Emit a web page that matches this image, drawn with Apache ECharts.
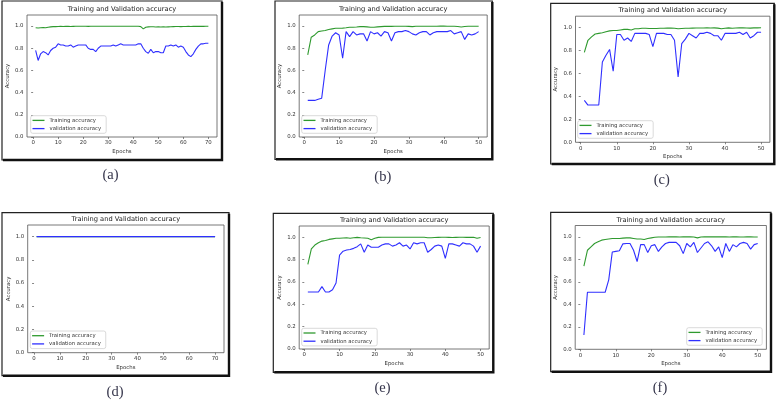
<!DOCTYPE html>
<html><head><meta charset="utf-8">
<script src="https://cdn.jsdelivr.net/npm/echarts@6/dist/echarts.min.js"></script>
<style>html,body{margin:0;padding:0;background:#fff}#c{width:777px;height:401px}</style>
</head><body><div id="c"></div>
<script>
// ---------------- data ----------------
const trainA = [0.985,0.983,0.985,0.986,0.985,0.99,0.993,0.995,0.995,0.996,
  0.997,0.996,0.997,0.997,0.996,0.997,0.998,0.998,0.998,0.998,
  0.998,0.997,0.998,0.998,0.998,0.998,0.999,0.998,0.999,0.999,
  0.999,0.999,0.999,0.999,0.999,0.999,0.999,0.999,0.999,0.999,
  0.999,0.998,0.995,0.975,0.99,0.993,0.994,0.994,0.992,0.993,
  0.992,0.993,0.992,0.993,0.994,0.995,0.996,0.996,0.995,0.996,
  0.996,0.997,0.996,0.997,0.997,0.997,0.997,0.997,0.998,0.998];
const valA = [0.78,0.69,0.75,0.77,0.76,0.74,0.78,0.80,0.81,0.84,
  0.83,0.83,0.82,0.82,0.83,0.81,0.82,0.83,0.83,0.83,
  0.83,0.80,0.79,0.79,0.77,0.80,0.82,0.82,0.82,0.82,
  0.82,0.83,0.82,0.83,0.84,0.83,0.83,0.83,0.83,0.83,
  0.83,0.84,0.84,0.80,0.77,0.755,0.79,0.76,0.77,0.77,
  0.76,0.76,0.82,0.82,0.83,0.82,0.83,0.81,0.82,0.81,
  0.77,0.74,0.725,0.75,0.79,0.82,0.84,0.84,0.845,0.845];
const trainB = [0.74,0.90,0.92,0.95,0.955,0.96,0.97,0.975,0.98,0.98,
  0.982,0.985,0.99,0.99,0.992,0.995,0.995,0.993,0.99,0.99,
  0.993,0.995,0.997,0.997,0.997,0.998,0.998,0.998,0.998,0.997,
  0.995,0.998,0.999,0.999,0.999,0.999,0.999,0.999,1.0,1.0,
  0.999,0.999,0.998,0.996,0.992,0.996,0.999,0.999,0.999,0.998];
const valB = [0.33,0.33,0.33,0.34,0.35,0.60,0.83,0.91,0.94,0.92,
  0.71,0.95,0.905,0.95,0.92,0.93,0.93,0.865,0.95,0.93,
  0.94,0.91,0.95,0.94,0.865,0.94,0.95,0.95,0.96,0.95,
  0.93,0.92,0.94,0.95,0.95,0.92,0.94,0.95,0.95,0.95,
  0.95,0.96,0.93,0.94,0.95,0.88,0.93,0.92,0.93,0.95];
const trainC = [0.785,0.89,0.92,0.945,0.95,0.955,0.965,0.972,0.975,0.975,
  0.98,0.985,0.985,0.98,0.99,0.99,0.995,0.995,0.993,0.993,
  0.993,0.995,0.995,0.996,0.997,0.995,0.99,0.993,0.995,0.995,
  0.996,0.997,0.997,0.997,0.998,0.997,0.998,0.996,0.99,0.995,
  0.998,0.995,0.997,0.999,0.998,0.997,0.996,0.998,0.998,0.999];
const valC = [0.365,0.325,0.325,0.325,0.325,0.70,0.76,0.81,0.62,0.94,
  0.94,0.89,0.91,0.88,0.95,0.95,0.95,0.95,0.94,0.834,
  0.95,0.95,0.95,0.94,0.94,0.89,0.57,0.86,0.90,0.95,
  0.93,0.91,0.95,0.95,0.96,0.95,0.93,0.93,0.89,0.95,
  0.95,0.95,0.95,0.96,0.94,0.96,0.91,0.93,0.96,0.96];
const trainD = [1,1,1,1,1,1,1,1,1,1, 1,1,1,1,1,1,1,1,1,1, 1,1,1,1,1,1,1,1,1,1,
  1,1,1,1,1,1,1,1,1,1, 1,1,1,1,1,1,1,1,1,1, 1,1,1,1,1,1,1,1,1,1, 1,1,1,1,1,1,1,1,1,1];
const valD = [1,1,1,1,1,1,1,1,1,1, 1,1,1,1,1,1,1,1,1,1, 1,1,1,1,1,1,1,1,1,1,
  1,1,1,1,1,1,1,1,1,1, 1,1,1,1,1,1,1,1,1,1, 1,1,1,1,1,1,1,1,1,1, 1,1,1,1,1,1,1,1,1,1];
const trainE = [0.757,0.895,0.93,0.95,0.965,0.97,0.98,0.985,0.99,0.99,
  0.993,0.995,0.99,0.995,0.998,0.995,0.993,0.99,0.978,0.99,
  0.998,0.999,0.999,0.999,0.999,0.999,0.999,0.999,0.999,0.999,
  1.0,1.0,1.0,0.999,0.995,0.995,0.997,0.998,0.999,0.999,
  0.998,0.997,0.998,0.999,0.999,0.998,0.998,0.999,0.99,0.997];
const valE = [0.51,0.51,0.51,0.51,0.558,0.51,0.51,0.53,0.59,0.84,
  0.875,0.885,0.89,0.90,0.915,0.94,0.865,0.93,0.91,0.91,
  0.91,0.93,0.94,0.94,0.92,0.93,0.95,0.92,0.93,0.895,
  0.95,0.94,0.95,0.95,0.865,0.89,0.92,0.93,0.92,0.81,
  0.94,0.94,0.93,0.92,0.95,0.94,0.94,0.92,0.865,0.92];
const trainF = [0.74,0.88,0.91,0.94,0.955,0.97,0.975,0.98,0.985,0.985,
  0.985,0.988,0.99,0.99,0.985,0.98,0.98,0.975,0.985,0.99,
  0.995,0.998,0.998,0.998,0.999,0.999,0.999,0.998,0.999,0.999,
  0.999,0.998,0.99,0.998,0.999,0.999,0.999,0.999,0.999,0.999,
  0.999,0.998,0.999,0.999,0.998,0.998,0.999,0.999,0.998,0.998];
const valF = [0.127,0.507,0.507,0.507,0.507,0.507,0.507,0.617,0.864,0.87,
  0.875,0.937,0.94,0.94,0.88,0.78,0.93,0.93,0.86,0.92,
  0.93,0.87,0.91,0.94,0.95,0.95,0.95,0.92,0.85,0.94,
  0.91,0.95,0.86,0.90,0.94,0.955,0.92,0.87,0.91,0.815,
  0.94,0.87,0.93,0.91,0.94,0.95,0.94,0.89,0.93,0.94];

const xTicks70 = [0,10,20,30,40,50,60,70];
const xTicks50 = [0,10,20,30,40,50];
const yTicks = [0,0.2,0.4,0.6,0.8,1.0];
const seriesNames = ['Training accuracy','validation accuracy'];
const titleText = 'Training and Validation accuracy';
const xName = 'Epochs';
const yName = 'Accuracy';
const panelLabels = ['(a)','(b)','(c)','(d)','(e)','(f)'];

// ---------------- layout ----------------
const panels = [
  {train: trainA, val: valA, ticks: xTicks70, xmin: -2.45, xmax: 73.45,
   grid: {left: 27, top: 15, width: 190, height: 122}, frame: [2, 1, 222, 160],
   label: [110.5, 175.5], legend: [30.7, 115.7]},
  {train: trainB, val: valB, ticks: xTicks50, xmin: -1.45, xmax: 52.45,
   grid: {left: 299.2, top: 15, width: 188, height: 122}, frame: [275, 1, 492.3, 159.3],
   label: [382.8, 177], legend: [301.7, 115.7]},
  {train: trainC, val: valC, ticks: xTicks50, xmin: -1.45, xmax: 52.45,
   grid: {left: 575.5, top: 16.2, width: 194.4, height: 126.1}, frame: [550.7, 3.3, 774.3, 164],
   label: [661.8, 179.7], legend: [577.7, 120.7]},
  {train: trainD, val: valD, ticks: xTicks70, xmin: -2.45, xmax: 73.45,
   grid: {left: 27.7, top: 225, width: 196.3, height: 127.7}, frame: [2, 212.7, 229, 375.7],
   label: [115, 392.5], legend: [30.3, 331]},
  {train: trainE, val: valE, ticks: xTicks50, xmin: -1.45, xmax: 52.45,
   grid: {left: 299.2, top: 226, width: 190, height: 123}, frame: [273.3, 213.3, 493.3, 372.3],
   label: [382.5, 388.3], legend: [301.7, 328.3]},
  {train: trainF, val: valF, ticks: xTicks50, xmin: -1.45, xmax: 52.45,
   grid: {left: 575.2, top: 225.5, width: 191.2, height: 123.8}, frame: [550.7, 212.3, 771, 371.7],
   label: [660, 388.3], legend: [686.7, 327.7]}
];

const FONT = 'DejaVu Sans';
const GREEN = '#2f9a2f';
const BLUE = '#2f2fff';
const AX = '#555';
const TXT = '#333';

const grids = [], xAxes = [], yAxes = [], series = [], legends = [], graphics = [];
panels.forEach((p, i) => {
  grids.push(Object.assign({show: true, borderColor: AX, borderWidth: 0.8, backgroundColor: '#fff'}, p.grid));
  xAxes.push({
    type: 'value', gridIndex: i, min: p.xmin, max: p.xmax,
    name: xName, nameLocation: 'middle', nameGap: 12,
    nameTextStyle: {fontFamily: FONT, fontSize: 5.4, color: TXT},
    axisLine: {show: false},
    axisTick: {show: true, length: 2, lineStyle: {color: AX, width: 0.7}, customValues: p.ticks},
    axisLabel: {fontFamily: FONT, fontSize: 5.4, color: TXT, margin: 3.5, customValues: p.ticks},
    splitLine: {show: false}
  });
  yAxes.push({
    type: 'value', gridIndex: i, min: 0, max: 1.1,
    name: yName, nameLocation: 'middle', nameGap: 17,
    nameTextStyle: {fontFamily: FONT, fontSize: 5.4, color: TXT},
    axisLine: {show: false},
    axisTick: {show: true, length: 2, lineStyle: {color: AX, width: 0.7}, customValues: yTicks},
    axisLabel: {fontFamily: FONT, fontSize: 5.4, color: TXT, margin: 3.5, customValues: yTicks,
      formatter: v => v.toFixed(1)},
    splitLine: {show: false}
  });
  series.push({
    type: 'line', name: seriesNames[0], xAxisIndex: i, yAxisIndex: i,
    data: p.train.map((v, k) => [k + 1, v]), showSymbol: false, silent: true,
    lineStyle: {color: GREEN, width: 1.1}, itemStyle: {color: GREEN}
  });
  series.push({
    type: 'line', name: seriesNames[1], xAxisIndex: i, yAxisIndex: i,
    data: p.val.map((v, k) => [k + 1, v]), showSymbol: false, silent: true,
    lineStyle: {color: BLUE, width: 1.1}, itemStyle: {color: BLUE}
  });
  legends.push({
    data: seriesNames, orient: 'vertical', left: p.legend[0], top: p.legend[1],
    icon: 'rect', itemWidth: 12, itemHeight: 1.3, itemGap: 0.6,
    padding: [0.9, 5, 0.9, 1.8], selectedMode: false,
    borderColor: '#d0d0d0', borderWidth: 0.8, borderRadius: 2, backgroundColor: 'rgba(255,255,255,0.85)',
    textStyle: {fontFamily: FONT, fontSize: 5.3, lineHeight: 7.6, color: TXT}
  });
  const cx = p.grid.left + p.grid.width / 2;
  graphics.push({
    type: 'text', x: cx, y: p.grid.top - 5.6,
    style: {text: titleText, fontFamily: FONT, fontSize: 6.7, fill: '#222', align: 'center', verticalAlign: 'middle'}
  });
  const [x1, y1, x2, y2] = p.frame;
  graphics.push({
    type: 'rect', shape: {x: x1, y: y1, width: x2 - x1, height: y2 - y1},
    style: {fill: 'none', stroke: '#222', lineWidth: 1.2}
  });
  graphics.push({
    type: 'polyline', shape: {points: [[x1 + 1, y2], [x2, y2], [x2, y1 + 1]]},
    style: {fill: 'none', stroke: '#111', lineWidth: 2.4}
  });
  graphics.push({
    type: 'text', x: p.label[0], y: p.label[1],
    style: {text: panelLabels[i], fontFamily: 'Liberation Serif', fontSize: 14.5, fill: '#34344a', align: 'center', verticalAlign: 'middle'}
  });
});

const chart = echarts.init(document.getElementById('c'), null, {renderer: 'canvas'});
chart.setOption({
  backgroundColor: '#fff',
  animation: false,
  grid: grids, xAxis: xAxes, yAxis: yAxes, series: series, legend: legends,
  graphic: graphics
});
</script></body></html>
